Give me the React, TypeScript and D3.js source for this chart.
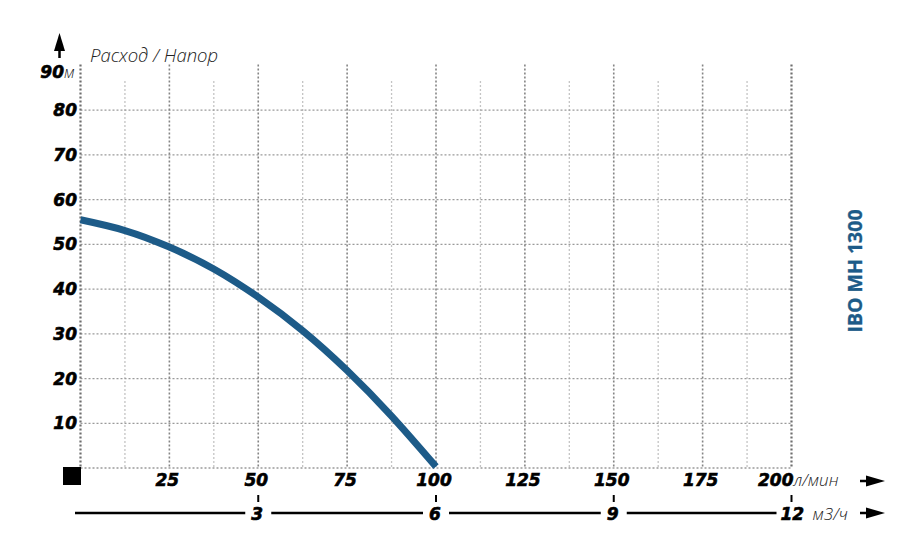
import React from "react";
import * as d3 from "d3";

const flowLmin = [0, 12.5, 25, 37.5, 50, 62.5, 75, 87.5, 100];
const headM = [55.5, 53.1, 49.4, 44.5, 38.2, 30.7, 21.8, 11.6, 0.3];
const xTicks = [25, 50, 75, 100, 125, 150, 175, 200];
const xMinor = [12.5, 37.5, 62.5, 87.5, 112.5, 137.5, 162.5, 187.5];
const yTicks = [10, 20, 30, 40, 50, 60, 70, 80];
const yTop = 90;
const m3hTicks = [3, 6, 9, 12];
const model = "IBO MH 1300";
const axisTitle = "Расход / Напор";

const W = 915;
const H = 536;
const numFont = "'DejaVu Sans', Verdana, sans-serif";
const lightFont = "'Open Sans', 'Noto Sans', sans-serif";
const blue = "#1d5b88";

const numStyle = {
  fontFamily: numFont,
  fontWeight: "bold" as const,
  fontStyle: "italic" as const,
  fontSize: 17,
  fill: "#000",
  stroke: "#000",
  strokeWidth: 0.6,
};
const unitStyle = {
  fontFamily: lightFont,
  fontStyle: "italic" as const,
  fontWeight: 300,
  fill: "#222",
};

function Arrow({ y }: { y: number }) {
  return (
    <g>
      <line x1={860} x2={870} y1={y} y2={y} stroke="#000" strokeWidth={2.5} />
      <path d={`M866,${y - 5.5} L885,${y} L866,${y + 5.5} Z`} fill="#000" />
    </g>
  );
}

export default function App() {
  const x = d3.scaleLinear().domain([0, 200]).range([80.5, 791.5]);
  const y = d3.scaleLinear().domain([0, 90]).range([468, 65.5]);
  const xM3 = d3.scaleLinear().domain([0, 12]).range([x(0), x(200)]);

  const line = d3
    .line<number>()
    .x((_, i) => x(flowLmin[i]))
    .y((d) => y(d))
    .curve(d3.curveNatural);

  const lineY2 = 513;
  const gapHalf = 13;
  const segStarts = [75, ...m3hTicks.slice(0, -1).map((t) => xM3(t) + gapHalf)];
  const segEnds = m3hTicks.map((t) => xM3(t) - (t >= 10 ? 15 : gapHalf));

  return (
    <svg
      width={W}
      height={H}
      style={{ position: "absolute", left: 0, top: 0, background: "#fff" }}
    >
      {xMinor.map((v) => (
        <line
          key={"mn" + v}
          x1={x(v)}
          x2={x(v)}
          y1={81}
          y2={y(0)}
          stroke="#c4c4c4"
          strokeWidth={1.3}
          strokeDasharray="2,2"
        />
      ))}
      {[0, ...yTicks].map((v) => (
        <line
          key={"h" + v}
          x1={x(0)}
          x2={x(200)}
          y1={y(v)}
          y2={y(v)}
          stroke="#9a9a9a"
          strokeWidth={1.3}
          strokeDasharray="2,2"
        />
      ))}
      {[0, ...xTicks].map((v) => (
        <line
          key={"mj" + v}
          x1={x(v)}
          x2={x(v)}
          y1={y(yTop) - 1}
          y2={y(0)}
          stroke={v === 0 || v === 200 ? "#6e6e6e" : "#858585"}
          strokeWidth={v === 0 || v === 200 ? 2.2 : 1.6}
          strokeDasharray="2,2"
        />
      ))}

      <path d={line(headM) || ""} fill="none" stroke={blue} strokeWidth={7} />

      {yTicks.map((v) => (
        <text key={"yl" + v} x={77} y={y(v) + 6} textAnchor="end" {...numStyle}>
          {v}
        </text>
      ))}
      <text x={64} y={y(yTop) + 12} textAnchor="end" {...numStyle}>
        {yTop}
      </text>
      <text x={64} y={y(yTop) + 12} fontSize={16} {...unitStyle}>
        м
      </text>

      <line x1={59.5} x2={59.5} y1={44} y2={58} stroke="#000" strokeWidth={2.5} />
      <path d="M59.5,33 L54,51 L65,51 Z" fill="#000" />
      <text x={90} y={62} fontSize={18.5} {...unitStyle}>
        {axisTitle}
      </text>

      <rect x={63} y={467} width={18} height={18} fill="#000" />

      {xTicks.map((v) => (
        <text
          key={"xl" + v}
          x={v === 200 ? x(v) + 2 : x(v) - 2}
          y={486}
          textAnchor={v === 200 ? "end" : "middle"}
          {...numStyle}
        >
          {v}
        </text>
      ))}
      <text x={x(200) + 2} y={486} fontSize={17} {...unitStyle}>
        л/мин
      </text>
      <Arrow y={481} />

      {segStarts.map((s, i) => (
        <line
          key={"seg" + i}
          x1={s}
          x2={segEnds[i]}
          y1={lineY2}
          y2={lineY2}
          stroke="#000"
          strokeWidth={2.5}
        />
      ))}
      {m3hTicks.map((t) => (
        <g key={"m3" + t}>
          <line
            x1={xM3(t)}
            x2={xM3(t)}
            y1={495}
            y2={502}
            stroke="#000"
            strokeWidth={2}
          />
          <text
            x={t >= 10 ? xM3(t) - 11 : xM3(t) - 1}
            y={520}
            textAnchor={t >= 10 ? "start" : "middle"}
            {...numStyle}
          >
            {t}
          </text>
        </g>
      ))}
      <text x={xM3(12) + 21} y={520} fontSize={17} {...unitStyle}>
        м3/ч
      </text>
      <Arrow y={513} />

      <text
        transform={`translate(862,271) rotate(-90)`}
        textAnchor="middle"
        fontFamily="'Open Sans', 'Noto Sans', sans-serif"
        fontWeight="bold"
        fontSize={19.5}
        fill={blue}
        stroke={blue}
        strokeWidth={0.3}
      >
        {model}
      </text>
    </svg>
  );
}
